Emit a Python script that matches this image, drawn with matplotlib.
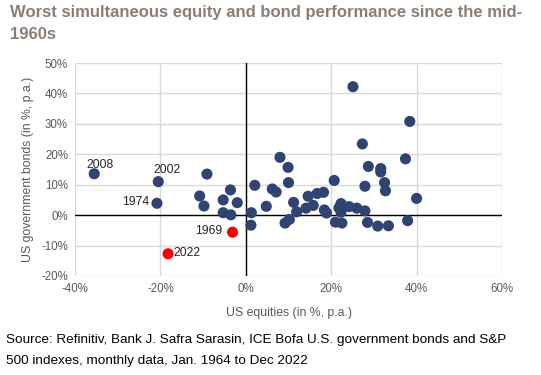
import matplotlib
matplotlib.use("Agg")
import matplotlib.pyplot as plt
from matplotlib.ticker import FuncFormatter

# US equities (x, % p.a.) and US government bonds (y, % p.a.)
eq_blue = [-35.5, -20.5, -20.8, -9.1, -10.8, -9.8, -3.6, -5.3, -2.0, -5.3, -3.5,
           1.3, 1.2, 2.1, 4.8, 6.2, 7.1, 8.0, 9.9, 10.0, 11.2, 11.9, 10.2, 9.2,
           14.1, 14.6, 15.8, 16.7, 18.2, 18.4, 18.9, 20.7, 21.0, 22.5, 22.3, 21.8,
           22.3, 24.2, 26.0, 27.9, 25.1, 27.3, 28.7, 27.9, 28.5, 30.9, 31.6, 31.6,
           32.5, 32.7, 33.4, 37.4, 38.4, 37.9, 40.0]
bd_blue = [13.6, 11.0, 3.9, 13.5, 6.3, 3.0, 8.3, 5.0, 4.1, 0.8, 0.1,
           0.8, -3.3, 9.8, 2.9, 8.6, 7.6, 19.0, 15.7, 10.7, 4.2, 1.1, -1.4, -2.6,
           2.3, 6.2, 3.2, 7.1, 7.5, 1.7, 0.7, 11.4, -2.3, -2.6, 3.8, 2.4,
           1.0, 2.8, 2.3, 1.4, 42.2, 23.4, 16.0, 9.5, -2.4, -3.6, 15.3, 14.2,
           10.7, 8.0, -3.5, 18.5, 30.8, -1.8, 5.5]
eq_red = [-18.2, -3.1]
bd_red = [-12.7, -5.6]

# annotated years: (label, text x, text y, ha)
labels = ["2008", "2002", "1974", "1969", "2022"]
label_x = [-34.2, -18.4, -22.7, -5.5, -17.0]
label_y = [16.6, 14.8, 4.2, -5.3, -12.3]
label_ha = ["center", "center", "right", "right", "left"]

x_ticks = [-40, -20, 0, 20, 40, 60]
y_ticks = [-20, -10, 0, 10, 20, 30, 40, 50]

title = "Worst simultaneous equity and bond performance since the mid-\n1960s"
xlabel = "US equities (in %, p.a.)"
ylabel = "US government bonds (in %, p.a.)"
source = ("Source: Refinitiv, Bank J. Safra Sarasin, ICE Bofa U.S. government bonds and S&P\n"
          "500 indexes, monthly data, Jan. 1964 to Dec 2022")

plt.rcParams['font.family'] = ['Liberation Sans', 'DejaVu Sans']

fig = plt.figure(figsize=(5.41, 3.75), dpi=100)
W, H = 541, 375
ax = fig.add_axes([75 / W, 1 - 276 / H, (502 - 75) / W, (276 - 63) / H])

ax.set_xlim(-40, 60)
ax.set_ylim(-20, 50)
ax.set_xticks(x_ticks)
ax.set_yticks(y_ticks)
ax.xaxis.set_major_formatter(FuncFormatter(lambda v, p: f"{v:.0f}%"))
ax.yaxis.set_major_formatter(FuncFormatter(lambda v, p: f"{v:.0f}%"))
ax.grid(True, color='#d9d9d9', linewidth=1.0, zorder=0)
ax.set_axisbelow(True)
for s in ax.spines.values():
    s.set_visible(False)
ax.tick_params(length=0, labelsize=8.3, colors='#595959', pad=5)
ax.axhline(0, color='black', linewidth=1.0, zorder=1)
ax.axvline(0, color='black', linewidth=1.0, zorder=1)

ax.scatter(eq_blue, bd_blue, s=64, color='#2f4470', edgecolors='none', zorder=3, clip_on=False)
ax.scatter(eq_red, bd_red, s=64, color='#ff0000', edgecolors='none', zorder=3, clip_on=False)

for lab, lx, ly, ha in zip(labels, label_x, label_y, label_ha):
    ax.text(lx, ly, lab, ha=ha, va='center', fontsize=8.8, color='#262626', zorder=4)

ax.set_xlabel(xlabel, fontsize=8.8, color='#595959', labelpad=9)
ax.set_ylabel(ylabel, fontsize=8.8, color='#595959', labelpad=5)

fig.text(10 / W, 1 - 5 / H, title, ha='left', va='top', fontsize=12,
         fontweight='bold', color='#8c7d74', linespacing=1.55)
fig.text(6 / W, 1 - 334 / H, source, ha='left', va='top', fontsize=9.7,
         color='black', linespacing=2.05)

fig.savefig('out.png', dpi=100)
